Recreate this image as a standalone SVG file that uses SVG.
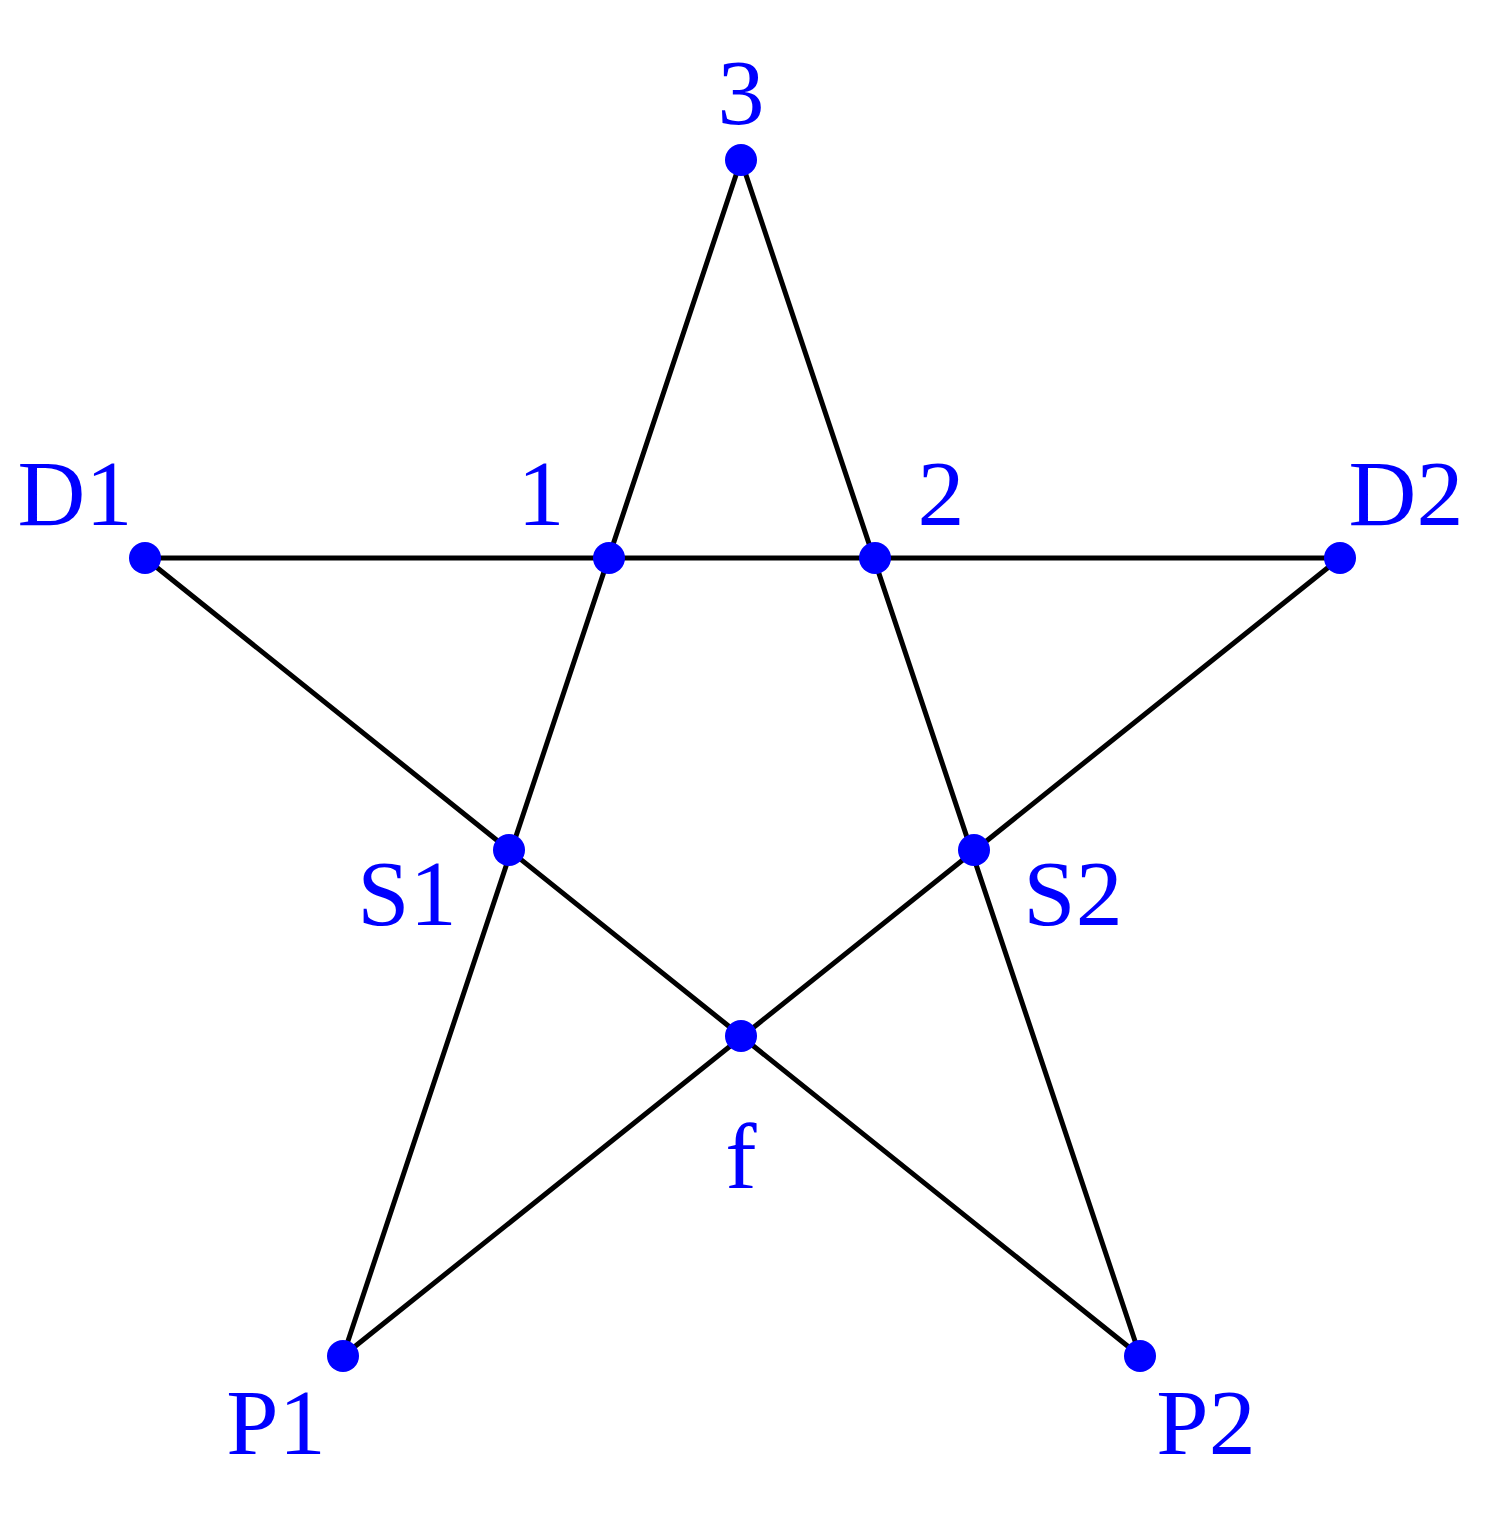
<svg xmlns="http://www.w3.org/2000/svg" width="1511" height="1529" viewBox="0 0 1511 1529">
<style>
.e{stroke:#000;stroke-width:5;fill:none;stroke-linecap:round}
.d{fill:#0000ff}
.t{fill:#0000ff;font-family:"Liberation Serif","DejaVu Serif",serif;font-size:94px;text-anchor:middle}
</style>
<rect width="1511" height="1529" fill="#fff"/>
<g id="connectors">
<line class="e" x1="741" y1="160" x2="343" y2="1356"/>
<line class="e" x1="741" y1="160" x2="1140" y2="1356"/>
<line class="e" x1="145" y1="558" x2="1340" y2="558"/>
<line class="e" x1="145" y1="558" x2="1140" y2="1356"/>
<line class="e" x1="1340" y1="558" x2="343" y2="1356"/>
</g>
<g id="n3"><circle class="d" cx="741" cy="160" r="16"/><text class="t" x="741" y="124">3</text></g>
<g id="nD1"><circle class="d" cx="145" cy="558" r="16"/><text class="t" x="75" y="525">D1</text></g>
<g id="n1"><circle class="d" cx="609" cy="558" r="16"/><text class="t" x="541" y="525">1</text></g>
<g id="n2"><circle class="d" cx="875" cy="558" r="16"/><text class="t" x="941" y="525">2</text></g>
<g id="nD2"><circle class="d" cx="1340" cy="558" r="16"/><text class="t" x="1406" y="525">D2</text></g>
<g id="nS1"><circle class="d" cx="509" cy="850" r="16"/><text class="t" x="407" y="925">S1</text></g>
<g id="nS2"><circle class="d" cx="974" cy="850" r="16"/><text class="t" x="1073" y="925">S2</text></g>
<g id="nf"><circle class="d" cx="741" cy="1036" r="16"/><text class="t" x="741" y="1188">f</text></g>
<g id="nP1"><circle class="d" cx="343" cy="1356" r="16"/><text class="t" x="276" y="1454">P1</text></g>
<g id="nP2"><circle class="d" cx="1140" cy="1356" r="16"/><text class="t" x="1206" y="1454">P2</text></g>
</svg>
